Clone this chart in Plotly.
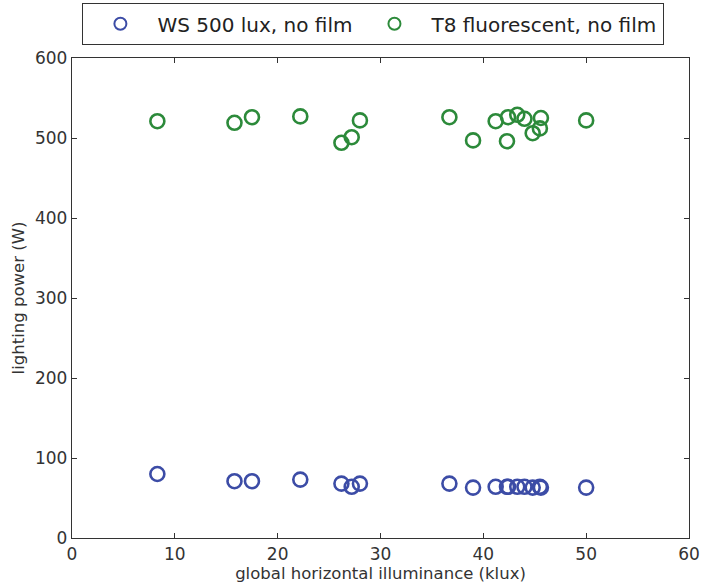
import plotly.graph_objects as go

illum = [8.3, 15.8, 17.5, 22.2, 26.2, 27.2, 28.0, 36.7, 39.0, 41.2, 42.3, 42.4, 43.3, 44.0, 44.8, 45.5, 45.6, 50.0]
ws_power = [80, 71, 71, 73, 68, 64, 68, 68, 63, 64, 64, 64, 64, 64, 63, 64, 63, 63]
t8_power = [521, 519, 526, 527, 494, 501, 522, 526, 497, 521, 496, 526, 529, 524, 506, 512, 525, 522]

series_names = ["WS 500 lux, no film", "T8 fluorescent, no film"]
colors = ["#3C4CA6", "#2C8A3A"]

fig = go.Figure()
for name, ys, c in zip(series_names, [ws_power, t8_power], colors):
    fig.add_trace(go.Scatter(
        x=illum, y=ys, mode="markers", name=name,
        marker=dict(symbol="circle-open", size=14, color=c, line=dict(width=2.6, color=c)),
    ))

axis_common = dict(
    showgrid=False, zeroline=False, showline=True, linecolor="#333333", linewidth=1.3,
    mirror="allticks", ticks="inside", ticklen=5, tickcolor="#333333",
    tickfont=dict(family="DejaVu Sans", size=17, color="#333333"),
)
fig.update_xaxes(range=[0, 60], dtick=10, title=dict(text="global horizontal illuminance (klux)",
                 font=dict(family="DejaVu Sans", size=16.5, color="#333333"), standoff=2), **axis_common)
fig.update_yaxes(range=[0, 600], dtick=100, title=dict(text="lighting power (W)",
                 font=dict(family="DejaVu Sans", size=16.5, color="#333333"), standoff=6), **axis_common)

fig.update_layout(
    width=701, height=585, paper_bgcolor="white", plot_bgcolor="white",
    margin=dict(l=72, r=12, t=58, b=47, autoexpand=False),
    showlegend=True,
    legend=dict(orientation="h", x=0.488, xanchor="center", y=0.995, yref="container", yanchor="top",
                bordercolor="#333333", borderwidth=1.3, bgcolor="white",
                font=dict(family="DejaVu Sans", size=20, color="#222222"),
                itemsizing="constant", itemwidth=64, tracegroupgap=0),
)
fig.write_html("out.html")
